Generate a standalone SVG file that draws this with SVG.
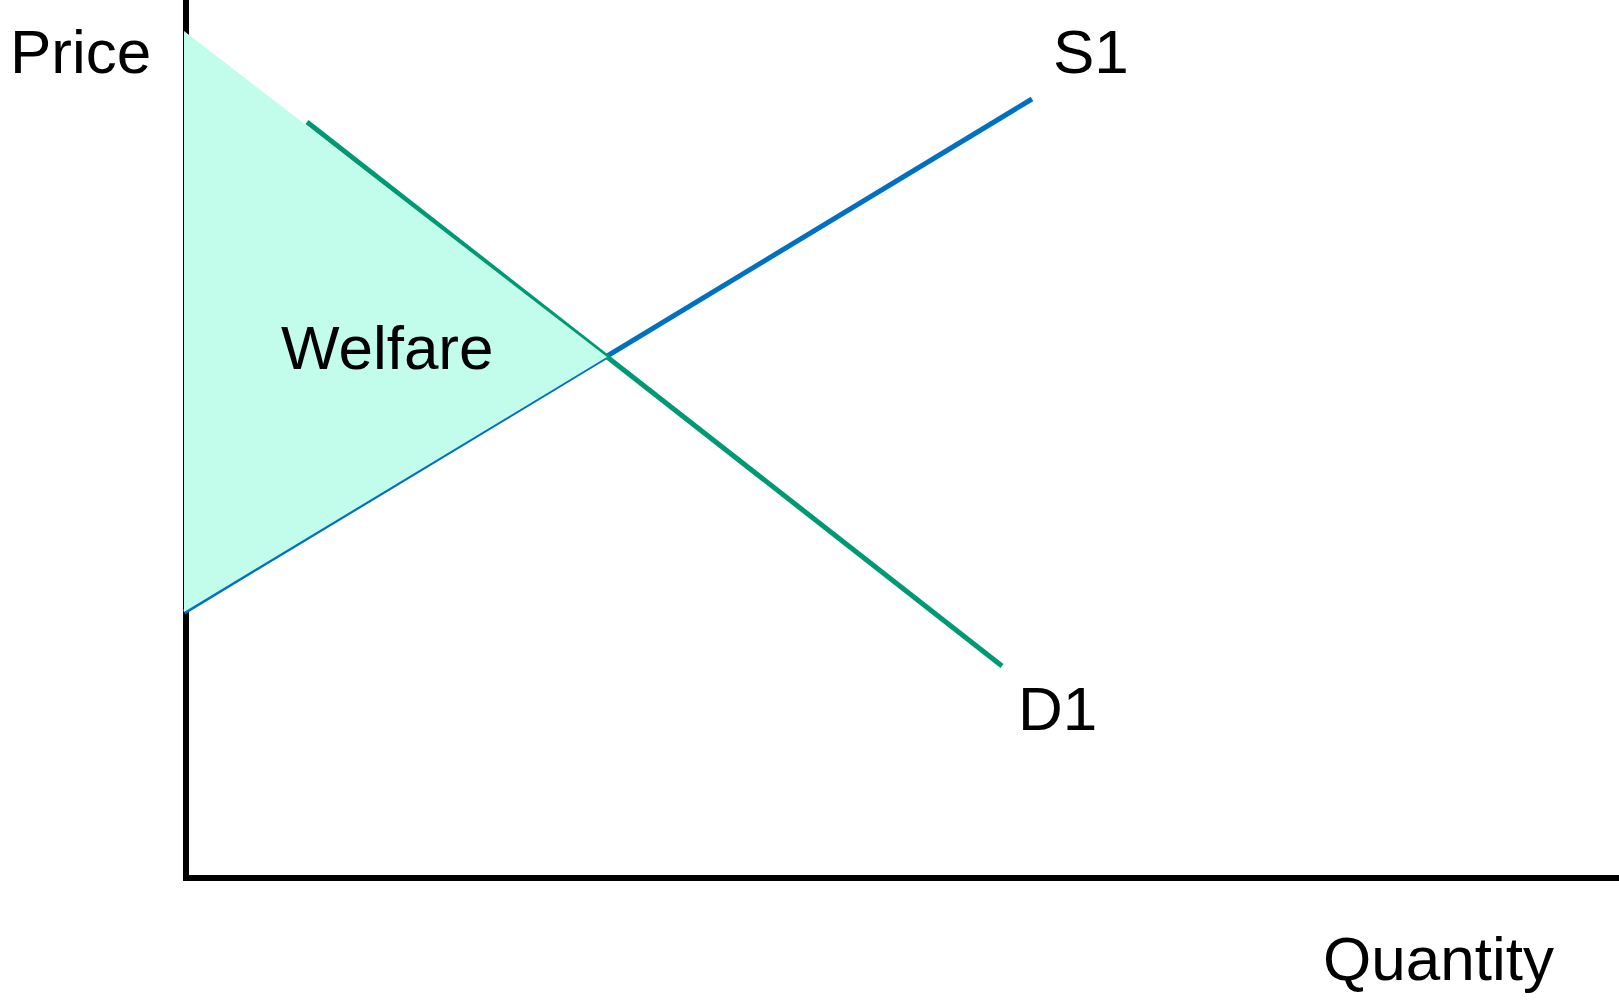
<svg xmlns="http://www.w3.org/2000/svg" width="1619" height="1000" viewBox="0 0 1619 1000">
<style>
.lbl{font-family:"Liberation Sans",Arial,sans-serif;font-size:62px;fill:#000}
.axis{stroke:#000;stroke-width:6;fill:none}
.sup{stroke:#0070C0;stroke-width:5;fill:none}
.dem{stroke:#009973;stroke-width:5;fill:none}
</style>
<rect width="1619" height="1000" fill="#fff"/>
<g id="axes">
<line class="axis" x1="186" y1="0" x2="186" y2="878"/>
<line class="axis" x1="183" y1="878" x2="1619" y2="878"/>
</g>
<g id="connectors">
<line id="supply" class="sup" x1="184" y1="612" x2="1032" y2="99"/>
<line id="demand" class="dem" x1="307" y1="122" x2="1002" y2="666"/>
</g>
<g id="welfare">
<polygon points="184,31 607,357 184,612" fill="#C2FDEC"/>
<text class="lbl" x="281" y="369" font-size="64">Welfare</text>
</g>
<g id="labels">
<text class="lbl" x="10" y="73" font-size="63">Price</text>
<text class="lbl" x="1053" y="73" font-size="61">S1</text>
<text class="lbl" x="1018" y="730" font-size="61">D1</text>
<text class="lbl" x="1323" y="980" font-size="65">Quantity</text>
</g>
</svg>
